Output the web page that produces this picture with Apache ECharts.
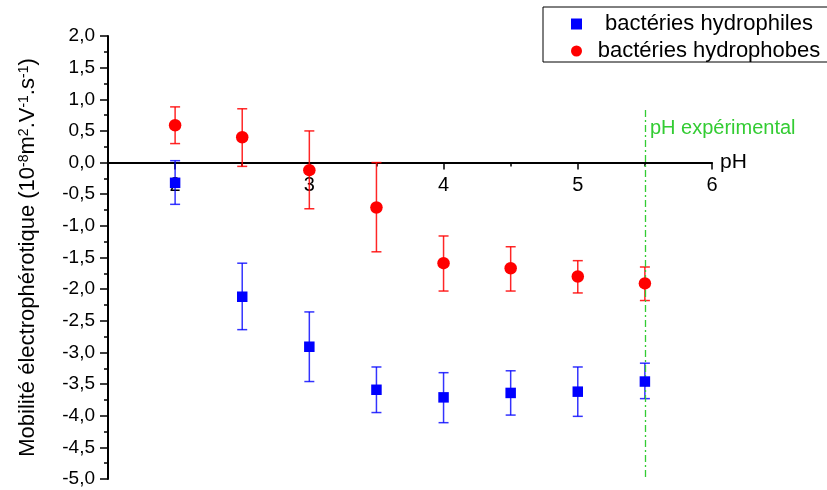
<!DOCTYPE html>
<html>
<head>
<meta charset="utf-8">
<script src="https://cdn.jsdelivr.net/npm/echarts@6/dist/echarts.min.js"></script>
<style>
  html, body { margin: 0; padding: 0; background: #fff; }
  #chart { width: 827px; height: 490px; }
</style>
</head>
<body>
<div id="chart"></div>
<script>
// pH values
var ph = [2, 2.5, 3, 3.5, 4, 4.5, 5, 5.5];

// bactéries hydrophiles (mean, low, high)
var philMean = [-0.32, -2.12, -2.91, -3.59, -3.71, -3.64, -3.62, -3.46];
var philLow  = [-0.66, -2.64, -3.46, -3.95, -4.11, -3.99, -4.01, -3.73];
var philHigh = [0.03, -1.59, -2.36, -3.23, -3.32, -3.29, -3.23, -3.17];

// bactéries hydrophobes (mean, low, high)
var phobMean = [0.59, 0.40, -0.12, -0.71, -1.59, -1.67, -1.80, -1.91];
var phobLow  = [0.30, -0.06, -0.73, -1.41, -2.03, -2.03, -2.06, -2.18];
var phobHigh = [0.88, 0.85, 0.50, 0.00, -1.16, -1.33, -1.55, -1.65];

var majorTicksX = [2, 3, 4, 5, 6];
var phExp = 5.5;

var yMin = -5, yMax = 2;
var gridTop = 36, gridBottom = 11, chartH = 490;

var font = 'Liberation Sans, Arial, sans-serif';
var green = '#33cc33';

var chart = echarts.init(document.getElementById('chart'));

// x axis sits on y = 0 : move it up from the bottom of the grid
var gridH = chartH - gridTop - gridBottom;
var zeroOffset = -gridH * (0 - yMin) / (yMax - yMin);

function pairs(xs, ys) {
    return xs.map(function (x, i) { return [x, ys[i]]; });
}
function triples(xs, lo, hi) {
    return xs.map(function (x, i) { return [x, lo[i], hi[i]]; });
}

// error bars drawn as a custom series
function errorBars(color) {
    return function (params, api) {
        var x = api.value(0);
        var p1 = api.coord([x, api.value(1)]);
        var p2 = api.coord([x, api.value(2)]);
        var hw = 5;
        var style = { stroke: color, lineWidth: 1.5 };
        return {
            type: 'group',
            children: [
                { type: 'line', shape: { x1: p1[0], y1: p1[1], x2: p2[0], y2: p2[1] }, style: style },
                { type: 'line', shape: { x1: p1[0] - hw, y1: p1[1], x2: p1[0] + hw, y2: p1[1] }, style: style },
                { type: 'line', shape: { x1: p2[0] - hw, y1: p2[1], x2: p2[0] + hw, y2: p2[1] }, style: style }
            ]
        };
    };
}

option = {
    animation: false,
    textStyle: { fontFamily: font },
    grid: {
        left: 108,
        right: 115,
        top: gridTop,
        bottom: gridBottom,
        outerBoundsMode: 'none'
    },
    legend: {
        orient: 'vertical',
        left: 543,
        top: 7,
        padding: [6, 10, 0, 28],
        itemGap: 5,
        itemWidth: 11,
        itemHeight: 11,
        borderColor: '#000',
        borderWidth: 1,
        data: [
            { name: 'bactéries hydrophiles', icon: 'rect', itemStyle: { color: '#0000ff' } },
            { name: 'bactéries hydrophobes', icon: 'circle', itemStyle: { color: '#ff0000' } }
        ],
        formatter: function (name) { return '{c|' + name + '}'; },
        textStyle: {
            rich: {
                c: { width: 244, align: 'center', fontSize: 22, lineHeight: 24, color: '#000', fontFamily: font }
            }
        }
    },
    xAxis: [
        {
            type: 'value',
            min: 1.5,
            max: 6,
            interval: 0.5,
            position: 'bottom',
            offset: zeroOffset,
            name: 'pH',
            nameLocation: 'end',
            nameGap: 8,
            nameTextStyle: { fontSize: 21, color: '#000', verticalAlign: 'middle' },
            axisLine: { onZero: false, lineStyle: { color: '#000', width: 2 } },
            axisTick: { length: 4, lineStyle: { color: '#000', width: 1.5 } },
            axisLabel: {
                fontSize: 20,
                color: '#000',
                margin: 13,
                formatter: function (v) { return v % 1 === 0 ? String(v) : ''; }
            },
            splitLine: { show: false }
        },
        {
            // major ticks at integers
            type: 'value',
            min: 1.5,
            max: 6,
            position: 'bottom',
            offset: zeroOffset,
            axisLine: { show: false, onZero: false },
            axisTick: { customValues: majorTicksX, length: 7, lineStyle: { color: '#000', width: 1.5 } },
            axisLabel: { show: false },
            splitLine: { show: false }
        }
    ],
    yAxis: {
        type: 'value',
        min: yMin,
        max: yMax,
        interval: 0.5,
        name: 'Mobilité électrophérotique (10{sup|-8}m{sup|2}.V{sup|-1}.s{sup|-1})',
        nameLocation: 'middle',
        nameGap: 69,
        nameRotate: 90,
        nameTextStyle: {
            fontSize: 22,
            color: '#000',
            rich: {
                sup: { fontSize: 14, verticalAlign: 'top', color: '#000', fontFamily: font }
            }
        },
        axisLine: { onZero: false, lineStyle: { color: '#000', width: 2 } },
        axisTick: { length: 8, lineStyle: { color: '#000', width: 1.5 } },
        minorTick: { show: true, splitNumber: 2, length: 4, lineStyle: { color: '#000', width: 1.5 } },
        axisLabel: {
            fontSize: 19,
            color: '#000',
            margin: 13,
            formatter: function (v) { return v.toFixed(1).replace('.', ','); }
        },
        splitLine: { show: false }
    },
    series: [
        {
            name: 'err hydrophiles',
            type: 'custom',
            renderItem: errorBars('rgba(0,0,255,0.8)'),
            encode: { x: 0, y: [1, 2] },
            data: triples(ph, philLow, philHigh),
            z: 3
        },
        {
            name: 'err hydrophobes',
            type: 'custom',
            renderItem: errorBars('rgba(255,0,0,0.85)'),
            encode: { x: 0, y: [1, 2] },
            data: triples(ph, phobLow, phobHigh),
            z: 3
        },
        {
            name: 'bactéries hydrophiles',
            type: 'scatter',
            symbol: 'rect',
            symbolSize: 10.5,
            itemStyle: { color: '#0000ff', opacity: 1 },
            data: pairs(ph, philMean),
            z: 5
        },
        {
            name: 'bactéries hydrophobes',
            type: 'scatter',
            symbol: 'circle',
            symbolSize: 12.5,
            itemStyle: { color: '#ff0000', opacity: 1 },
            data: pairs(ph, phobMean),
            z: 5,
            markLine: {
                silent: true,
                symbol: 'none',
                label: { show: false },
                lineStyle: { color: green, width: 1.3, type: [7, 3, 2, 3] },
                data: [[{ coord: [phExp, 0.83] }, { coord: [phExp, yMin] }]]
            },
            markPoint: {
                symbolSize: 0,
                label: {
                    show: true,
                    position: 'right',
                    distance: 5,
                    formatter: 'pH expérimental',
                    color: green,
                    fontSize: 20
                },
                data: [{ coord: [phExp, 0.54] }]
            }
        }
    ]
};

chart.setOption(option);
</script>
</body>
</html>
